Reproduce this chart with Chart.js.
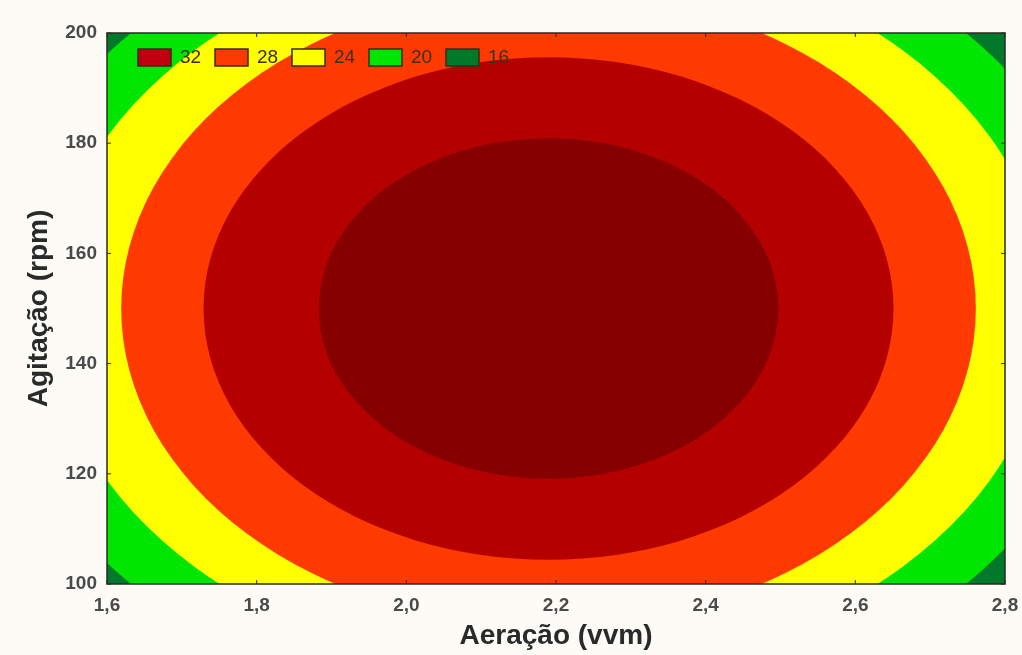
<!DOCTYPE html>
<html>
<head>
<meta charset="utf-8">
<script src="https://cdn.jsdelivr.net/npm/chart.js@4.4.1/dist/chart.umd.min.js"></script>
<style>
  html, body { margin: 0; padding: 0; background: #fcfbf6; }
  #wrap { width: 1022px; height: 655px; }
</style>
</head>
<body>
<div id="wrap"><canvas id="contour"></canvas></div>
<script>
// contour levels, outermost first
const levels = [20, 24, 28, 32, 36];
const levelColors = ['#00e600', '#ffff00', '#ff3a00', '#b50000', '#870000'];
const baseColor = '#00792a'; // region below 20

// ellipse of each level boundary: centre and semi-axes in data units
const centerX = 2.19;   // vvm
const centerY = 150;    // rpm
const semiX = [0.750, 0.668, 0.571, 0.461, 0.307];
const semiY = [74.8, 66.4, 57.7, 45.6, 30.9];

// legend entries as shown in the picture
const legendLabels = ['32', '28', '24', '20', '16'];
const legendColors = ['#c00010', '#ff3a00', '#ffff00', '#00e600', '#00792a'];

const xTicks = [1.6, 1.8, 2.0, 2.2, 2.4, 2.6, 2.8];
const yTicks = [100, 120, 140, 160, 180, 200];

const tickFont = { family: 'Liberation Sans', size: 19, weight: 'bold' };
const titleFont = { family: 'Liberation Sans', size: 28, weight: 'bold' };

//===============================================

const contourPlugin = {
    id: 'contour',
    beforeDatasetsDraw(chart) {
        const { ctx, chartArea: area, scales: { x, y } } = chart;
        ctx.save();
        ctx.beginPath();
        ctx.rect(area.left, area.top, area.width, area.height);
        ctx.clip();
        ctx.fillStyle = baseColor;
        ctx.fillRect(area.left, area.top, area.width, area.height);

        const cx = x.getPixelForValue(centerX);
        const cy = y.getPixelForValue(centerY);
        levels.forEach((lvl, i) => {
            const rx = x.getPixelForValue(centerX + semiX[i]) - cx;
            const ry = cy - y.getPixelForValue(centerY + semiY[i]);
            ctx.beginPath();
            ctx.ellipse(cx, cy, rx, ry, 0, 0, Math.PI * 2);
            ctx.fillStyle = levelColors[i];
            ctx.fill();
        });
        ctx.restore();
    },
    afterDraw(chart) {
        const { ctx, chartArea: area, scales: { x, y } } = chart;
        ctx.save();
        // frame
        ctx.strokeStyle = '#2b2b1e';
        ctx.lineWidth = 1.5;
        ctx.strokeRect(area.left, area.top, area.width, area.height);

        // small inward ticks
        ctx.lineWidth = 1;
        xTicks.forEach(v => {
            const px = x.getPixelForValue(v);
            ctx.beginPath();
            ctx.moveTo(px, area.bottom); ctx.lineTo(px, area.bottom - 4);
            ctx.moveTo(px, area.top); ctx.lineTo(px, area.top + 4);
            ctx.stroke();
        });
        yTicks.forEach(v => {
            const py = y.getPixelForValue(v);
            ctx.beginPath();
            ctx.moveTo(area.left, py); ctx.lineTo(area.left + 4, py);
            ctx.moveTo(area.right, py); ctx.lineTo(area.right - 4, py);
            ctx.stroke();
        });

        // legend inside the plot, top-left
        ctx.font = '19px "Liberation Sans"';
        ctx.textBaseline = 'middle';
        let lx = area.left + 31;
        const ly = area.top + 16;
        legendLabels.forEach((label, i) => {
            ctx.fillStyle = legendColors[i];
            ctx.fillRect(lx, ly, 33, 17);
            ctx.strokeStyle = '#3a2a1a';
            ctx.lineWidth = 1.5;
            ctx.strokeRect(lx, ly, 33, 17);
            ctx.fillStyle = '#3a3020';
            ctx.fillText(label, lx + 42, ly + 9);
            lx += 77;
        });
        ctx.restore();
    }
};

new Chart(document.getElementById('contour'), {
    type: 'scatter',
    data: {
        datasets: levels.map((lvl, i) => ({
            label: String(lvl),
            data: [],
            backgroundColor: levelColors[i]
        }))
    },
    options: {
        responsive: true,
        maintainAspectRatio: false,
        animation: false,
        layout: { padding: { top: 33, right: 17, left: 0, bottom: 0 } },
        plugins: {
            legend: { display: false },
            tooltip: { enabled: false }
        },
        scales: {
            x: {
                type: 'linear',
                min: 1.6,
                max: 2.8,
                afterFit: s => { s.height = 71; },
                afterBuildTicks: s => { s.ticks = xTicks.map(v => ({ value: v })); },
                ticks: {
                    font: tickFont,
                    color: '#4a4a4a',
                    padding: 2,
                    maxRotation: 0,
                    callback: v => v.toFixed(1).replace('.', ',')
                },
                grid: { display: false },
                border: { display: false },
                title: {
                    display: true,
                    text: 'Aeração (vvm)',
                    font: titleFont,
                    color: '#2a2a2a',
                    padding: { top: 0, bottom: 2 }
                }
            },
            y: {
                type: 'linear',
                min: 100,
                max: 200,
                afterFit: s => { s.width = 107; },
                afterBuildTicks: s => { s.ticks = yTicks.map(v => ({ value: v })); },
                ticks: {
                    font: tickFont,
                    color: '#4a4a4a',
                    padding: 2
                },
                grid: { display: false },
                border: { display: false },
                title: {
                    display: true,
                    text: 'Agitação (rpm)',
                    font: titleFont,
                    color: '#2a2a2a',
                    padding: { top: 22, bottom: 0 }
                }
            }
        }
    },
    plugins: [contourPlugin]
});
</script>
</body>
</html>
